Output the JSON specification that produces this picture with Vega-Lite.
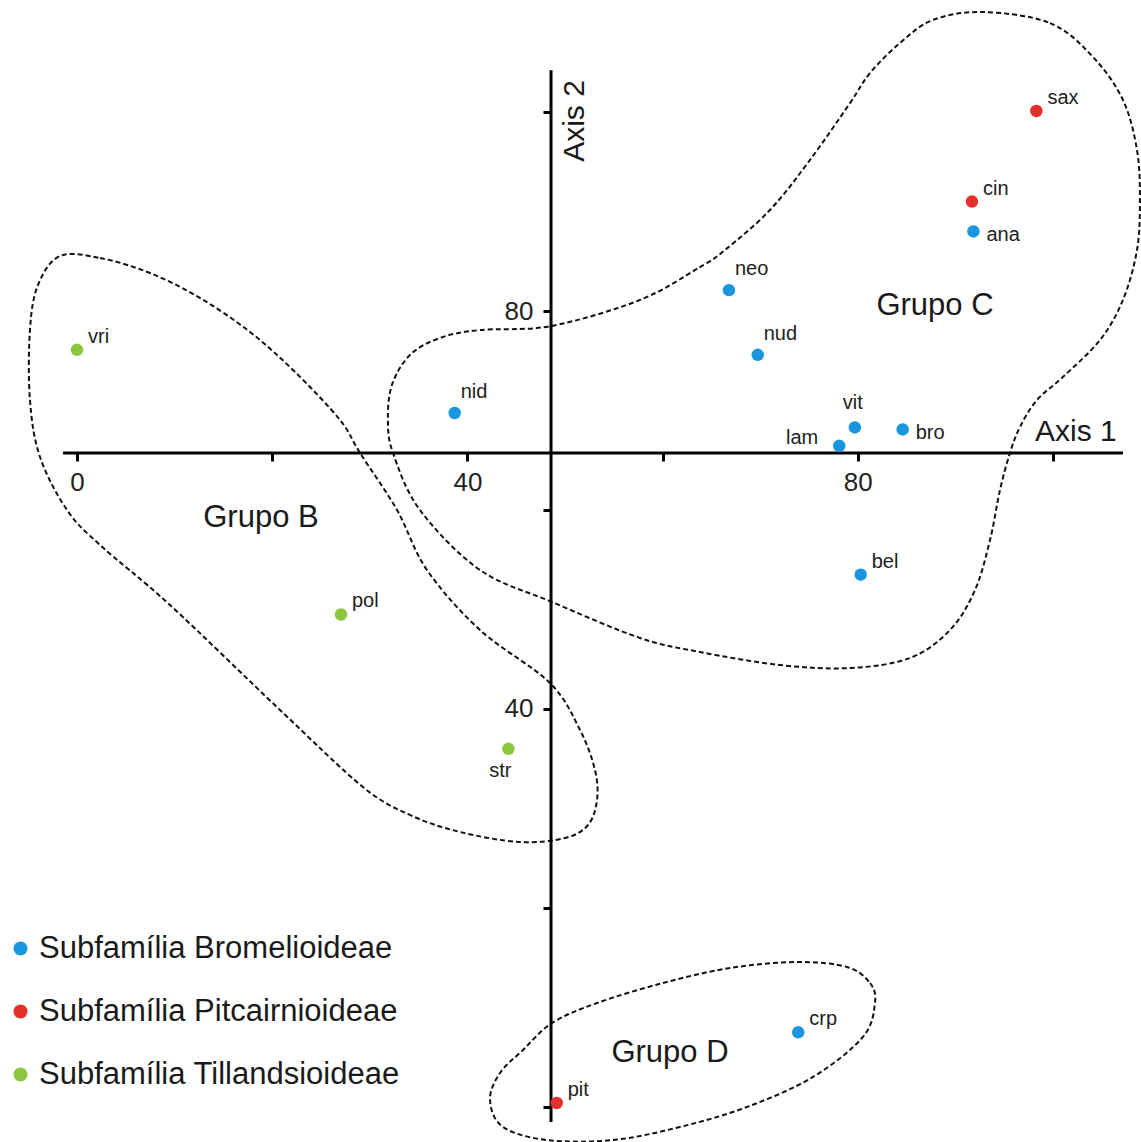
{
  "$schema": "https://vega.github.io/schema/vega-lite/v6.json",
  "width": 1141,
  "height": 1142,
  "autosize": {"type": "none"},
  "padding": 0,
  "background": "white",
  "config": {
    "view": {"stroke": null},
    "font": "Liberation Sans",
    "axis": {"domain": false, "grid": false}
  },
  "datasets": {
    "pts": [
      {"name": "vri", "x": 0, "y": 76.1, "sub": "Subfamília Tillandsioideae"},
      {"name": "pol", "x": 27.05, "y": 49.5, "sub": "Subfamília Tillandsioideae"},
      {"name": "str", "x": 44.2, "y": 36.0, "sub": "Subfamília Tillandsioideae"},
      {"name": "nid", "x": 38.7, "y": 69.75, "sub": "Subfamília Bromelioideae"},
      {"name": "neo", "x": 66.8, "y": 82.1, "sub": "Subfamília Bromelioideae"},
      {"name": "nud", "x": 69.75, "y": 75.6, "sub": "Subfamília Bromelioideae"},
      {"name": "lam", "x": 78.1, "y": 66.45, "sub": "Subfamília Bromelioideae"},
      {"name": "vit", "x": 79.7, "y": 68.3, "sub": "Subfamília Bromelioideae"},
      {"name": "bro", "x": 84.6, "y": 68.1, "sub": "Subfamília Bromelioideae"},
      {"name": "bel", "x": 80.3, "y": 53.5, "sub": "Subfamília Bromelioideae"},
      {"name": "ana", "x": 91.85, "y": 88.0, "sub": "Subfamília Bromelioideae"},
      {"name": "cin", "x": 91.7, "y": 91.0, "sub": "Subfamília Pitcairnioideae"},
      {"name": "sax", "x": 98.3, "y": 100.1, "sub": "Subfamília Pitcairnioideae"},
      {"name": "crp", "x": 73.9, "y": 7.5, "sub": "Subfamília Bromelioideae"},
      {"name": "pit", "x": 49.15, "y": 0.4, "sub": "Subfamília Pitcairnioideae"}
    ],
    "outl": [
      {"g": "C", "i": 1, "x": 92.83, "y": 110.05},
      {"g": "C", "i": 2, "x": 99.69, "y": 108.94},
      {"g": "C", "i": 3, "x": 104.1, "y": 105.53},
      {"g": "C", "i": 4, "x": 107.17, "y": 101.21},
      {"g": "C", "i": 5, "x": 108.61, "y": 96.18},
      {"g": "C", "i": 6, "x": 108.91, "y": 91.16},
      {"g": "C", "i": 7, "x": 108.61, "y": 86.13},
      {"g": "C", "i": 8, "x": 107.17, "y": 81.11},
      {"g": "C", "i": 9, "x": 104.82, "y": 77.09},
      {"g": "C", "i": 10, "x": 101.02, "y": 73.37},
      {"g": "C", "i": 11, "x": 98.36, "y": 71.06},
      {"g": "C", "i": 12, "x": 96.62, "y": 68.34},
      {"g": "C", "i": 13, "x": 95.59, "y": 65.73},
      {"g": "C", "i": 14, "x": 94.57, "y": 62.01},
      {"g": "C", "i": 15, "x": 93.55, "y": 56.98},
      {"g": "C", "i": 16, "x": 92.01, "y": 51.96},
      {"g": "C", "i": 17, "x": 89.45, "y": 47.94},
      {"g": "C", "i": 18, "x": 85.35, "y": 45.13},
      {"g": "C", "i": 19, "x": 79.2, "y": 44.12},
      {"g": "C", "i": 20, "x": 72.03, "y": 44.42},
      {"g": "C", "i": 21, "x": 63.83, "y": 45.73},
      {"g": "C", "i": 22, "x": 57.68, "y": 47.14},
      {"g": "C", "i": 23, "x": 48.67, "y": 50.75},
      {"g": "C", "i": 24, "x": 41.29, "y": 53.97},
      {"g": "C", "i": 25, "x": 35.14, "y": 60.0},
      {"g": "C", "i": 26, "x": 32.38, "y": 65.73},
      {"g": "C", "i": 27, "x": 31.86, "y": 69.05},
      {"g": "C", "i": 28, "x": 32.27, "y": 72.56},
      {"g": "C", "i": 29, "x": 34.12, "y": 75.58},
      {"g": "C", "i": 30, "x": 37.19, "y": 77.29},
      {"g": "C", "i": 31, "x": 41.29, "y": 78.09},
      {"g": "C", "i": 32, "x": 48.57, "y": 78.49},
      {"g": "C", "i": 33, "x": 57.68, "y": 81.11},
      {"g": "C", "i": 34, "x": 63.83, "y": 84.42},
      {"g": "C", "i": 35, "x": 66.39, "y": 86.13},
      {"g": "C", "i": 36, "x": 71.0, "y": 90.15},
      {"g": "C", "i": 37, "x": 75.1, "y": 95.18},
      {"g": "C", "i": 38, "x": 79.2, "y": 100.9},
      {"g": "C", "i": 39, "x": 81.25, "y": 103.92},
      {"g": "C", "i": 40, "x": 84.32, "y": 106.93},
      {"g": "C", "i": 41, "x": 87.7, "y": 109.25},
      {"g": "B", "i": 1, "x": -1.74, "y": 85.53},
      {"g": "B", "i": 2, "x": 2.36, "y": 85.33},
      {"g": "B", "i": 3, "x": 7.48, "y": 83.82},
      {"g": "B", "i": 4, "x": 12.6, "y": 81.31},
      {"g": "B", "i": 5, "x": 17.73, "y": 77.89},
      {"g": "B", "i": 6, "x": 22.34, "y": 73.87},
      {"g": "B", "i": 7, "x": 26.95, "y": 69.05},
      {"g": "B", "i": 8, "x": 29.0, "y": 65.73},
      {"g": "B", "i": 9, "x": 32.79, "y": 60.0},
      {"g": "B", "i": 10, "x": 35.86, "y": 53.97},
      {"g": "B", "i": 11, "x": 41.29, "y": 47.94},
      {"g": "B", "i": 12, "x": 48.46, "y": 42.61},
      {"g": "B", "i": 13, "x": 51.54, "y": 37.89},
      {"g": "B", "i": 14, "x": 53.07, "y": 33.87},
      {"g": "B", "i": 15, "x": 53.28, "y": 30.85},
      {"g": "B", "i": 16, "x": 52.36, "y": 28.34},
      {"g": "B", "i": 17, "x": 50.0, "y": 27.04},
      {"g": "B", "i": 18, "x": 45.39, "y": 26.63},
      {"g": "B", "i": 19, "x": 39.24, "y": 27.64},
      {"g": "B", "i": 20, "x": 34.12, "y": 29.35},
      {"g": "B", "i": 21, "x": 29.3, "y": 32.16},
      {"g": "B", "i": 22, "x": 20.8, "y": 39.9},
      {"g": "B", "i": 23, "x": 9.53, "y": 50.45},
      {"g": "B", "i": 24, "x": 2.36, "y": 56.48},
      {"g": "B", "i": 25, "x": -1.02, "y": 60.0},
      {"g": "B", "i": 26, "x": -3.79, "y": 65.33},
      {"g": "B", "i": 27, "x": -4.82, "y": 71.06},
      {"g": "B", "i": 28, "x": -4.82, "y": 78.09},
      {"g": "B", "i": 29, "x": -4.0, "y": 82.61},
      {"g": "D", "i": 1, "x": 78.89, "y": 14.07},
      {"g": "D", "i": 2, "x": 81.25, "y": 12.46},
      {"g": "D", "i": 3, "x": 81.76, "y": 10.45},
      {"g": "D", "i": 4, "x": 80.53, "y": 7.04},
      {"g": "D", "i": 5, "x": 75.41, "y": 3.02},
      {"g": "D", "i": 6, "x": 68.65, "y": 0.0},
      {"g": "D", "i": 7, "x": 61.78, "y": -2.01},
      {"g": "D", "i": 8, "x": 54.92, "y": -3.32},
      {"g": "D", "i": 9, "x": 48.16, "y": -3.32},
      {"g": "D", "i": 10, "x": 43.65, "y": -2.01},
      {"g": "D", "i": 11, "x": 42.32, "y": 0.7},
      {"g": "D", "i": 12, "x": 43.34, "y": 3.42},
      {"g": "D", "i": 13, "x": 45.7, "y": 5.73},
      {"g": "D", "i": 14, "x": 48.67, "y": 8.44},
      {"g": "D", "i": 15, "x": 53.28, "y": 10.45},
      {"g": "D", "i": 16, "x": 60.04, "y": 12.46},
      {"g": "D", "i": 17, "x": 66.91, "y": 13.97},
      {"g": "D", "i": 18, "x": 73.77, "y": 14.57}
    ],
    "axes": [
      {"x": -1.43, "x2": 107.17, "y": 65.73, "y2": 65.73},
      {"x": 48.57, "x2": 48.57, "y": -1.5, "y2": 104.2}
    ],
    "groups": [
      {"label": "Grupo B", "x": 18.85, "y": 58.29},
      {"label": "Grupo C", "x": 87.91, "y": 79.6},
      {"label": "Grupo D", "x": 60.76, "y": 4.55}
    ],
    "titles1": [{"label": "Axis 1", "x": 98.16, "y": 66.97}],
    "titles2": [{"label": "Axis 2", "x": 51.95, "y": 99.1}]
  },
  "layer": [
    {
      "data": {"name": "outl"},
      "mark": {"type": "line", "interpolate": "cardinal-closed", "stroke": "#111", "strokeWidth": 2, "strokeDash": [5, 3]},
      "encoding": {
        "x": {"field": "x", "type": "quantitative", "scale": {"domain": [-7.889, 109.02], "nice": false, "zero": false}, "axis": {
          "orient": "bottom", "offset": -689, "values": [0, 20, 40, 60, 80, 100],
          "labelExpr": "datum.value % 40 === 0 ? datum.label : ''",
          "tickSize": 8, "tickWidth": 3, "tickColor": "#000",
          "labelFontSize": 26, "labelPadding": 8, "labelColor": "#222",
          "labelFlush": false, "labelOverlap": false, "title": null
        }},
        "y": {"field": "y", "type": "quantitative", "scale": {"domain": [-3.52, 111.26], "nice": false, "zero": false}, "axis": {
          "orient": "left", "offset": -551, "values": [0, 20, 40, 60, 80, 100],
          "labelExpr": "datum.value === 40 || datum.value === 80 ? datum.label : ''",
          "tickSize": 8, "tickWidth": 3, "tickColor": "#000",
          "labelFontSize": 26, "labelPadding": 10, "labelColor": "#222",
          "labelFlush": false, "labelOverlap": false, "title": null
        }},
        "detail": {"field": "g"},
        "order": {"field": "i", "type": "quantitative"}
      }
    },
    {
      "data": {"name": "axes"},
      "mark": {"type": "rule", "stroke": "#000", "strokeWidth": 3},
      "encoding": {
        "x": {"field": "x", "type": "quantitative"},
        "x2": {"field": "x2"},
        "y": {"field": "y", "type": "quantitative"},
        "y2": {"field": "y2"}
      }
    },
    {
      "data": {"name": "pts"},
      "mark": {"type": "point", "filled": true, "shape": "circle", "size": 156, "opacity": 1},
      "encoding": {
        "x": {"field": "x", "type": "quantitative"},
        "y": {"field": "y", "type": "quantitative"},
        "color": {
          "field": "sub", "type": "nominal",
          "scale": {"domain": ["Subfamília Bromelioideae", "Subfamília Pitcairnioideae", "Subfamília Tillandsioideae"], "range": ["#1a95e0", "#e3302a", "#8cc63e"]},
          "legend": {
            "orient": "none", "legendX": 5, "legendY": 933, "title": null,
            "padding": 0, "symbolSize": 196, "symbolType": "circle", "symbolStrokeWidth": 0,
            "labelFontSize": 31, "labelColor": "#1a1a1a", "labelOffset": 3, "rowPadding": 31,
            "labelLimit": 600
          }
        }
      }
    },
    {
      "data": {"name": "pts"},
      "transform": [{"filter": {"field": "name", "oneOf": ["sax", "cin", "bel", "vri", "pol", "crp", "pit"]}}],
      "mark": {"type": "text", "align": "left", "baseline": "alphabetic", "dx": 11, "dy": -7, "fontSize": 20, "color": "#222"},
      "encoding": {"x": {"field": "x", "type": "quantitative"}, "y": {"field": "y", "type": "quantitative"}, "text": {"field": "name"}}
    },
    {
      "data": {"name": "pts"},
      "transform": [{"filter": {"field": "name", "oneOf": ["neo", "nid", "nud"]}}],
      "mark": {"type": "text", "align": "left", "baseline": "alphabetic", "dx": 6, "dy": -15, "fontSize": 20, "color": "#222"},
      "encoding": {"x": {"field": "x", "type": "quantitative"}, "y": {"field": "y", "type": "quantitative"}, "text": {"field": "name"}}
    },
    {
      "data": {"name": "pts"},
      "transform": [{"filter": {"field": "name", "oneOf": ["ana", "bro"]}}],
      "mark": {"type": "text", "align": "left", "baseline": "alphabetic", "dx": 13, "dy": 10, "fontSize": 20, "color": "#222"},
      "encoding": {"x": {"field": "x", "type": "quantitative"}, "y": {"field": "y", "type": "quantitative"}, "text": {"field": "name"}}
    },
    {
      "data": {"name": "pts"},
      "transform": [{"filter": {"field": "name", "oneOf": ["vit"]}}],
      "mark": {"type": "text", "align": "center", "baseline": "alphabetic", "dx": -2, "dy": -18, "fontSize": 20, "color": "#222"},
      "encoding": {"x": {"field": "x", "type": "quantitative"}, "y": {"field": "y", "type": "quantitative"}, "text": {"field": "name"}}
    },
    {
      "data": {"name": "pts"},
      "transform": [{"filter": {"field": "name", "oneOf": ["lam"]}}],
      "mark": {"type": "text", "align": "right", "baseline": "alphabetic", "dx": -21, "dy": -2, "fontSize": 20, "color": "#222"},
      "encoding": {"x": {"field": "x", "type": "quantitative"}, "y": {"field": "y", "type": "quantitative"}, "text": {"field": "name"}}
    },
    {
      "data": {"name": "pts"},
      "transform": [{"filter": {"field": "name", "oneOf": ["str"]}}],
      "mark": {"type": "text", "align": "center", "baseline": "alphabetic", "dx": -8, "dy": 28, "fontSize": 20, "color": "#222"},
      "encoding": {"x": {"field": "x", "type": "quantitative"}, "y": {"field": "y", "type": "quantitative"}, "text": {"field": "name"}}
    },
    {
      "data": {"name": "groups"},
      "mark": {"type": "text", "align": "center", "baseline": "alphabetic", "fontSize": 31, "color": "#1a1a1a"},
      "encoding": {"x": {"field": "x", "type": "quantitative"}, "y": {"field": "y", "type": "quantitative"}, "text": {"field": "label"}}
    },
    {
      "data": {"name": "titles1"},
      "mark": {"type": "text", "align": "left", "baseline": "alphabetic", "fontSize": 30, "color": "#1a1a1a"},
      "encoding": {"x": {"field": "x", "type": "quantitative"}, "y": {"field": "y", "type": "quantitative"}, "text": {"field": "label"}}
    },
    {
      "data": {"name": "titles2"},
      "mark": {"type": "text", "align": "center", "baseline": "alphabetic", "angle": 270, "fontSize": 30, "color": "#1a1a1a"},
      "encoding": {"x": {"field": "x", "type": "quantitative"}, "y": {"field": "y", "type": "quantitative"}, "text": {"field": "label"}}
    }
  ]
}
